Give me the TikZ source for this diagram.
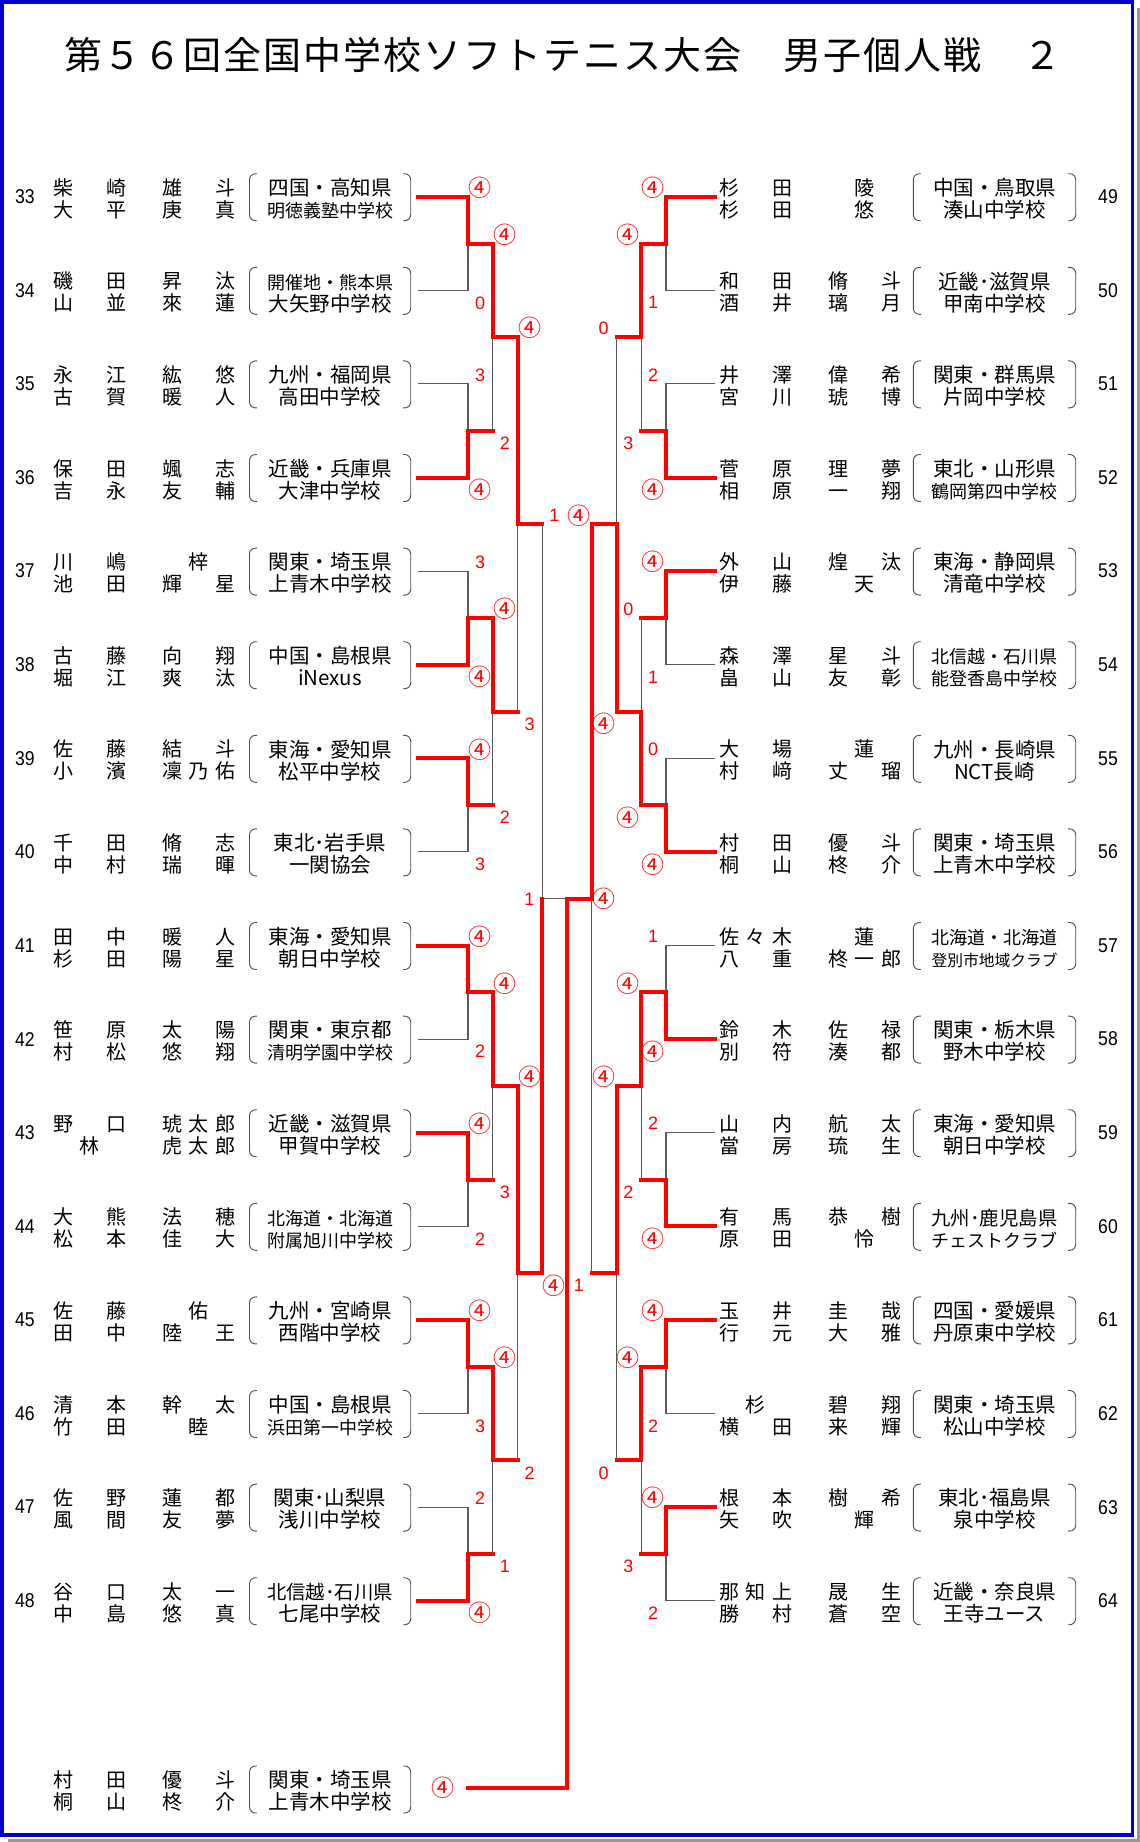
\documentclass[tikz,border=0pt]{standalone}
\usepackage{fontspec}
\usepackage{graphicx}
\setmainfont{Liberation Sans}
\newfontfamily\jp{Noto Sans CJK JP}
\newfontfamily\numf{Liberation Sans}
\pgfdeclarelayer{back}
\pgfdeclarelayer{bg}
\pgfsetlayers{back,bg,main}
\definecolor{losegray}{RGB}{90,90,90}
\definecolor{framblue}{RGB}{0,0,205}
\definecolor{shadowgray}{RGB}{150,150,150}

\ExplSyntaxOn
\bool_new:N \l_my_first_bool
\int_new:N \l_my_count_int
\NewDocumentCommand \distbox { m m }
  {
    \int_set:Nn \l_my_count_int { \tl_count:n {#2} }
    \makebox[#1][s]
      {
        \int_compare:nNnTF { \l_my_count_int } = { 1 }
          { \hfill #2 \hfill }
          {
            \bool_set_true:N \l_my_first_bool
            \tl_map_inline:nn {#2}
              {
                \bool_if:NF \l_my_first_bool { \hfill }
                \bool_set_false:N \l_my_first_bool
                ##1
              }
          }
      }
  }
\ExplSyntaxOff

\newsavebox\clubbox
\newcommand\clubfit[1]{\sbox\clubbox{#1}\ifdim\wd\clubbox>126pt\resizebox{126pt}{!}{\usebox\clubbox}\else\usebox\clubbox\fi}
\newcommand\nmline[2]{\distbox{73pt}{#1}\hspace{36pt}\distbox{73pt}{#2}}
\newcommand\W{{\jp\fontsize{23}{23}\selectfont ④}}

\tikzset{
  win/.style={draw=red, line width=4pt, line cap=rect},
  lose/.style={draw=losegray, line width=1.1pt},
  brk/.style={draw=black!70, line width=0.9pt, rounded corners=6pt},
  numtxt/.style={inner sep=0pt, anchor=center, font=\numf\fontsize{20}{20}\selectfont},
  nametxt/.style={inner sep=0pt, anchor=west, text height=16.6pt, text depth=1.4pt, font=\jp\fontsize{20}{20}\selectfont},
  clubtxt/.style={inner sep=0pt, anchor=center, text height=17pt, text depth=1.4pt, font=\jp\fontsize{20.5}{20.5}\selectfont},
  score/.style={inner sep=0pt, anchor=center, text=red, font=\numf\fontsize{18}{18}\selectfont},
  titletxt/.style={inner sep=0pt, anchor=center, text height=31.5pt, text depth=2.7pt, font=\jp\fontsize{38}{38}\selectfont},
}

% entry: side, y, number, sur1, giv1, sur2, giv2, club1, club2
\newcommand\entry[9]{%
  \pgfmathsetmacro\ry{#2}%
  \if R#1%
    \def\nx{1108}\def\mx{719}\def\bl{913.3}\def\br{1075.7}\def\cx{994.5}%
  \else
    \def\nx{25}\def\mx{53}\def\bl{249.5}\def\br{410.7}\def\cx{330}%
  \fi
  \if B#1\else\node[numtxt] (no#1#3) at (\nx,\ry) {\scalebox{0.88}[1]{#3}};\fi
  \node[nametxt] (nmA#1#3) at (\mx,\ry-9) {\nmline{#4}{#5}};
  \node[nametxt] (nmB#1#3) at (\mx,\ry+13) {\nmline{#6}{#7}};
  \node[clubtxt] (clA#1#3) at (\cx,\ry-9) {\clubfit{#8}};
  \node[clubtxt] (clB#1#3) at (\cx,\ry+13) {\clubfit{#9}};
  \draw[brk] (\bl+7.5,\ry-23) -| (\bl,\ry) |- (\bl+7.5,\ry+24);
  \draw[brk] (\br-7.5,\ry-23) -| (\br,\ry) |- (\br-7.5,\ry+24);
}

% match: side, round, index, winner(t/b), top score, bottom score, output style
\newcommand\match[7]{%
  \pgfmathsetmacro\pw{2^(#2-1)}%
  \pgfmathsetmacro\yt{196.7+93.6*(2*#3*\pw+(\pw-1)/2)}%
  \pgfmathsetmacro\yb{\yt+93.6*\pw}%
  \pgfmathsetmacro\ym{(\yt+\yb)/2}%
  \if L#1%
    \pgfmathsetmacro\xv{468+24.75*(#2-1)}\pgfmathsetmacro\xn{\xv+24.75}\def\lx{12}\def\leaf{418}%
  \else
    \pgfmathsetmacro\xv{666-24.75*(#2-1)}\pgfmathsetmacro\xn{\xv-24.75}\def\lx{-13}\def\leaf{715}%
  \fi
  \coordinate (#1#2-#3-t) at (\xv,\yt);
  \coordinate (#1#2-#3-b) at (\xv,\yb);
  \coordinate (#1#2-#3-m) at (\xv,\ym);
  \coordinate (#1#2-#3-o) at (\xn,\ym);
  \ifnum#2=1\relax
    \coordinate (#1#2-#3-lt) at (\leaf,\yt);
    \coordinate (#1#2-#3-lb) at (\leaf,\yb);
  \else
    \coordinate (#1#2-#3-lt) at (\xv,\yt);
    \coordinate (#1#2-#3-lb) at (\xv,\yb);
  \fi
  \if t#4%
    \begin{pgfonlayer}{bg}\draw[lose] (#1#2-#3-lb) -- (#1#2-#3-b) -- (#1#2-#3-m);\end{pgfonlayer}
    \draw[win] (#1#2-#3-lt) -- (#1#2-#3-t) -- (#1#2-#3-m);
  \else
    \begin{pgfonlayer}{bg}\draw[lose] (#1#2-#3-lt) -- (#1#2-#3-t) -- (#1#2-#3-m);\end{pgfonlayer}
    \draw[win] (#1#2-#3-lb) -- (#1#2-#3-b) -- (#1#2-#3-m);
  \fi
  \begin{pgfonlayer}{bg}\draw[#7] (#1#2-#3-m) -- (#1#2-#3-o);\end{pgfonlayer}
  \node[score] (s#1#2-#3-t) at ([xshift=\lx pt, yshift=9pt]#1#2-#3-t) {#5};
  \node[score] (s#1#2-#3-b) at ([xshift=\lx pt, yshift=-12.5pt]#1#2-#3-b) {#6};
}

\begin{document}
\begin{tikzpicture}[x=1pt, y=-1pt]
\useasboundingbox (0,0) rectangle (1140,1842);
\begin{pgfonlayer}{back}
\fill[white] (0,0) rectangle (1140,1842);
\end{pgfonlayer}
\draw[shadowgray, line width=3pt] (1138.5,8) -- (1138.5,1840.5) -- (8,1840.5);
\draw[framblue, line width=3.5pt] (2,2) rectangle (1132.5,1835);

\node[titletxt] (title) at (563,55) {\distbox{998pt}{第５６回全国中学校ソフトテニス大会　男子個人戦　２}};

% left entries
\entry{L}{196.7+93.6*0}{33}{柴崎}{雄斗}{大平}{庚真}{四国・高知県}{明徳義塾中学校}
\entry{L}{196.7+93.6*1}{34}{磯田}{昇汰}{山並}{來蓮}{開催地・熊本県}{大矢野中学校}
\entry{L}{196.7+93.6*2}{35}{永江}{紘悠}{古賀}{暖人}{九州・福岡県}{高田中学校}
\entry{L}{196.7+93.6*3}{36}{保田}{颯志}{吉永}{友輔}{近畿・兵庫県}{大津中学校}
\entry{L}{196.7+93.6*4}{37}{川嶋}{梓}{池田}{輝星}{関東・埼玉県}{上青木中学校}
\entry{L}{196.7+93.6*5}{38}{古藤}{向翔}{堀江}{爽汰}{中国・島根県}{iNexus}
\entry{L}{196.7+93.6*6}{39}{佐藤}{結斗}{小濱}{凜乃佑}{東海・愛知県}{松平中学校}
\entry{L}{196.7+93.6*7}{40}{千田}{脩志}{中村}{瑞暉}{東北･岩手県}{一関協会}
\entry{L}{196.7+93.6*8}{41}{田中}{暖人}{杉田}{陽星}{東海・愛知県}{朝日中学校}
\entry{L}{196.7+93.6*9}{42}{笹原}{太陽}{村松}{悠翔}{関東・東京都}{清明学園中学校}
\entry{L}{196.7+93.6*10}{43}{野口}{琥太郎}{林}{虎太郎}{近畿・滋賀県}{甲賀中学校}
\entry{L}{196.7+93.6*11}{44}{大熊}{法穂}{松本}{佳大}{北海道・北海道}{附属旭川中学校}
\entry{L}{196.7+93.6*12}{45}{佐藤}{佑}{田中}{陸王}{九州・宮崎県}{西階中学校}
\entry{L}{196.7+93.6*13}{46}{清本}{幹太}{竹田}{睦}{中国・島根県}{浜田第一中学校}
\entry{L}{196.7+93.6*14}{47}{佐野}{蓮都}{風間}{友夢}{関東･山梨県}{浅川中学校}
\entry{L}{196.7+93.6*15}{48}{谷口}{太一}{中島}{悠真}{北信越･石川県}{七尾中学校}
\entry{B}{1789}{}{村田}{優斗}{桐山}{柊介}{関東・埼玉県}{上青木中学校}

% right entries
\entry{R}{196.7+93.6*0}{49}{杉田}{陵}{杉田}{悠}{中国・鳥取県}{湊山中学校}
\entry{R}{196.7+93.6*1}{50}{和田}{脩斗}{酒井}{璃月}{近畿･滋賀県}{甲南中学校}
\entry{R}{196.7+93.6*2}{51}{井澤}{偉希}{宮川}{琥博}{関東・群馬県}{片岡中学校}
\entry{R}{196.7+93.6*3}{52}{菅原}{理夢}{相原}{一翔}{東北・山形県}{鶴岡第四中学校}
\entry{R}{196.7+93.6*4}{53}{外山}{煌汰}{伊藤}{天}{東海・静岡県}{清竜中学校}
\entry{R}{196.7+93.6*5}{54}{森澤}{星斗}{畠山}{友彰}{北信越・石川県}{能登香島中学校}
\entry{R}{196.7+93.6*6}{55}{大場}{蓮}{村﨑}{丈瑠}{九州・長崎県}{NCT長崎}
\entry{R}{196.7+93.6*7}{56}{村田}{優斗}{桐山}{柊介}{関東・埼玉県}{上青木中学校}
\entry{R}{196.7+93.6*8}{57}{佐々木}{蓮}{八重}{柊一郎}{北海道・北海道}{登別市地域クラブ}
\entry{R}{196.7+93.6*9}{58}{鈴木}{佐禄}{別符}{湊都}{関東・栃木県}{野木中学校}
\entry{R}{196.7+93.6*10}{59}{山内}{航太}{當房}{琉生}{東海・愛知県}{朝日中学校}
\entry{R}{196.7+93.6*11}{60}{有馬}{恭樹}{原田}{怜}{九州･鹿児島県}{チェストクラブ}
\entry{R}{196.7+93.6*12}{61}{玉井}{圭哉}{行元}{大雅}{四国・愛媛県}{丹原東中学校}
\entry{R}{196.7+93.6*13}{62}{杉}{碧翔}{横田}{来輝}{関東・埼玉県}{松山中学校}
\entry{R}{196.7+93.6*14}{63}{根本}{樹希}{矢吹}{輝}{東北･福島県}{泉中学校}
\entry{R}{196.7+93.6*15}{64}{那知上}{晟生}{勝村}{蒼空}{近畿・奈良県}{王寺ユース}

% left bracket
\match{L}{1}{0}{t}{\W}{0}{win}
\match{L}{1}{1}{b}{3}{\W}{win}
\match{L}{1}{2}{b}{3}{\W}{win}
\match{L}{1}{3}{t}{\W}{3}{win}
\match{L}{1}{4}{t}{\W}{2}{win}
\match{L}{1}{5}{t}{\W}{2}{win}
\match{L}{1}{6}{t}{\W}{3}{win}
\match{L}{1}{7}{b}{2}{\W}{win}
\match{L}{2}{0}{t}{\W}{2}{win}
\match{L}{2}{1}{t}{\W}{2}{win}
\match{L}{2}{2}{t}{\W}{3}{win}
\match{L}{2}{3}{t}{\W}{1}{win}
\match{L}{3}{0}{t}{\W}{3}{win}
\match{L}{3}{1}{t}{\W}{2}{win}
\match{L}{4}{0}{b}{1}{\W}{lose}

% right bracket
\match{R}{1}{0}{t}{\W}{1}{win}
\match{R}{1}{1}{b}{2}{\W}{win}
\match{R}{1}{2}{t}{\W}{1}{win}
\match{R}{1}{3}{b}{0}{\W}{win}
\match{R}{1}{4}{b}{1}{\W}{win}
\match{R}{1}{5}{b}{2}{\W}{win}
\match{R}{1}{6}{t}{\W}{2}{win}
\match{R}{1}{7}{t}{\W}{2}{win}
\match{R}{2}{0}{t}{\W}{3}{win}
\match{R}{2}{1}{b}{0}{\W}{win}
\match{R}{2}{2}{t}{\W}{2}{win}
\match{R}{2}{3}{t}{\W}{3}{win}
\match{R}{3}{0}{b}{0}{\W}{win}
\match{R}{3}{1}{t}{\W}{0}{win}
\match{R}{4}{0}{t}{\W}{1}{win}

% final
\coordinate (F-bot) at (567,1788);
\coordinate (F-end) at (468,1788);
\draw[win] (R4-0-o) -- (F-bot) -- (F-end);
\node[score] (sF-l) at ([xshift=-13pt, yshift=-1pt]L4-0-m) {1};
\node[score] (sF-r) at ([xshift=12pt]R4-0-m) {\W};
\node[score] (sF-b) at ([xshift=-25pt]F-end) {\W};
\end{tikzpicture}
\end{document}
